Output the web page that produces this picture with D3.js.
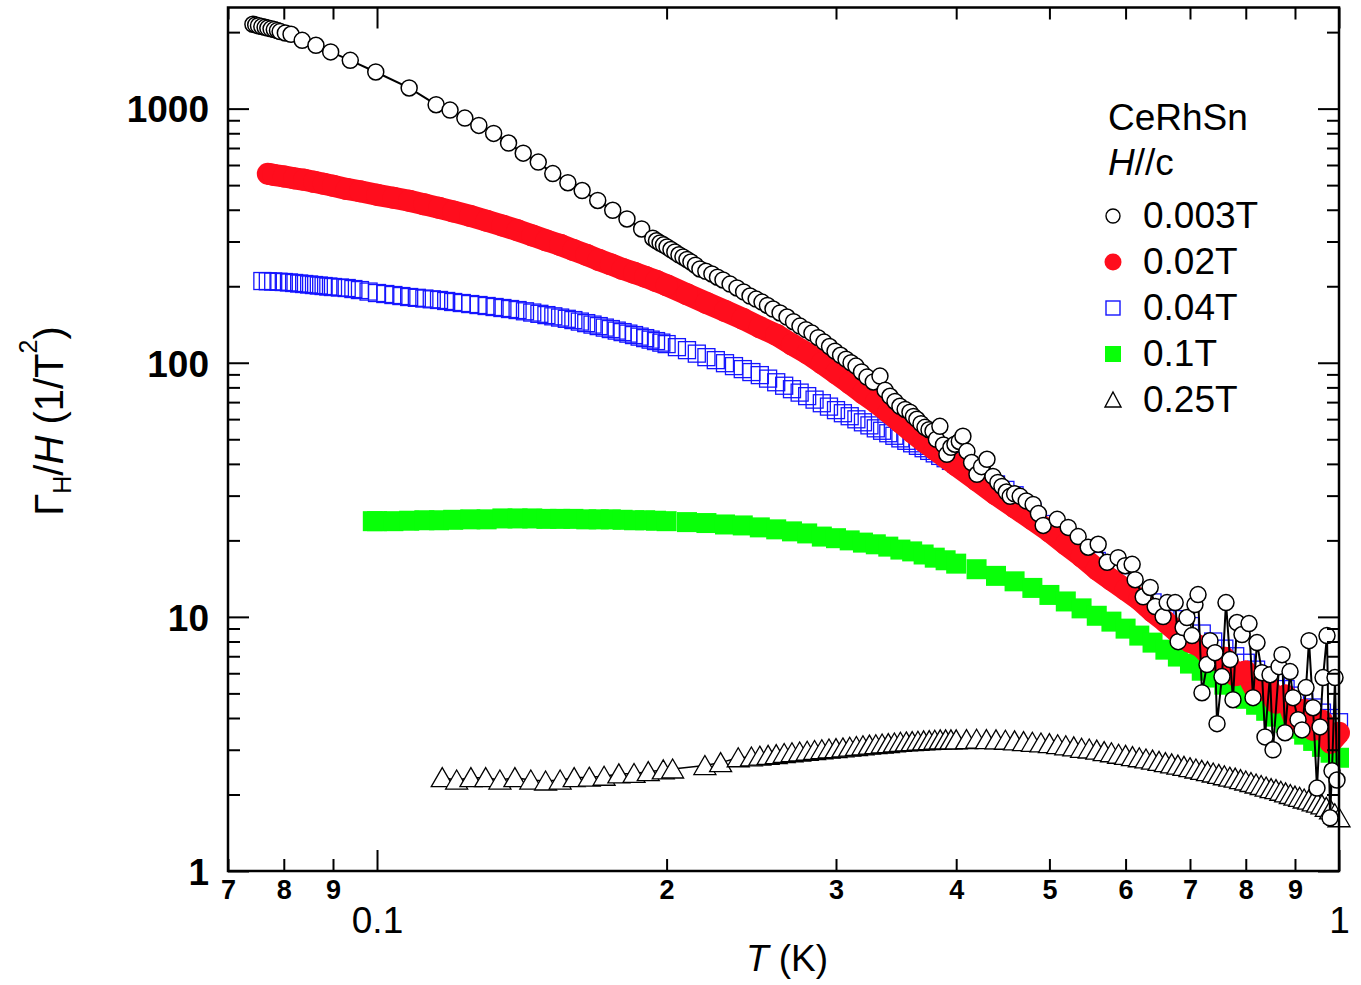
<!DOCTYPE html>
<html>
<head>
<meta charset="utf-8">
<script src="https://cdn.jsdelivr.net/npm/d3@7"></script>
<style>
  html, body { margin: 0; padding: 0; background: #fff; }
  svg { display: block; font-family: "Liberation Sans", Arial, Helvetica, sans-serif; }
</style>
</head>
<body>
<svg id="chart" width="1361" height="985"></svg>
<script>
// T (K) and Gamma_H/H (1/T^2), one pair of arrays per field
const circleT = [0.0743, 0.0748, 0.0753, 0.0759, 0.0765, 0.0770, 0.0776, 0.0782, 0.0788, 0.0793, 0.0803, 0.0814,
  0.0836, 0.0864, 0.0895, 0.0938, 0.0997, 0.1080, 0.1152, 0.1191, 0.1234, 0.1276, 0.1322, 0.1370, 0.1419,
  0.1471, 0.1523, 0.1579, 0.1634, 0.1696, 0.1758, 0.1819, 0.1884, 0.1935, 0.1952, 0.1969, 0.1985, 0.2002,
  0.2021, 0.2040, 0.2060, 0.2080, 0.2100, 0.2120, 0.2143, 0.2166, 0.2197, 0.2229, 0.2259, 0.2289, 0.2328,
  0.2367, 0.2405, 0.2442, 0.2478, 0.2513, 0.2546, 0.2580, 0.2624, 0.2668, 0.2710, 0.2752, 0.2792, 0.2832,
  0.2874, 0.2915, 0.2954, 0.2993, 0.3033, 0.3073, 0.3110, 0.3147, 0.3189, 0.3231, 0.3280, 0.3333, 0.3374,
  0.3414, 0.3455, 0.3496, 0.3540, 0.3581, 0.3611, 0.3641, 0.3677, 0.3712, 0.3748, 0.3784, 0.3815, 0.3847,
  0.3880, 0.3912, 0.3950, 0.3988, 0.4030, 0.4065, 0.4104, 0.4150, 0.4204, 0.4250, 0.4306, 0.4368, 0.4420,
  0.4463, 0.4510, 0.4552, 0.4600, 0.4662, 0.4730, 0.4809, 0.4870, 0.4926, 0.5094, 0.5230, 0.5356,
  0.5486, 0.5619, 0.5741, 0.5894, 0.5994, 0.6095, 0.6139, 0.6258, 0.6364, 0.6440, 0.6564, 0.6628, 0.6756,
  0.6804, 0.6886, 0.6950, 0.7034, 0.7084, 0.7136, 0.7204, 0.7291, 0.7343, 0.7432, 0.7468, 0.7557, 0.7630,
  0.7704, 0.7759, 0.7834, 0.7928, 0.8062, 0.8140, 0.8218, 0.8317, 0.8377, 0.8478, 0.8539, 0.8663, 0.8725,
  0.8788, 0.8894, 0.8958, 0.9066, 0.9153, 0.9241, 0.9307, 0.9397, 0.9487, 0.9556, 0.9625, 0.9717, 0.9787,
  0.9834, 0.9905, 0.9952];
const circleG = [2147, 2135, 2120, 2103, 2088, 2074, 2060, 2047, 2030, 2010, 1985, 1961,
  1857, 1775, 1672, 1549, 1394, 1206, 1036, 987, 918, 859, 799, 732, 668,
  616, 555, 511, 476, 435, 398, 368, 336, 309, 302, 296, 291, 285.6,
  279, 272.9, 266, 260.8, 255, 249.2, 242, 233.9, 229, 223.5, 217, 211.7, 204,
  196.9, 190, 183.0, 178, 173.3, 168, 162.7, 157, 151.3, 145, 139.4, 135, 130.8,
  125.5, 120.6, 115.8, 111.1, 107, 103.3, 100, 97.0, 92, 87.8, 84, 88.6, 78,
  73.8, 70.4, 67.4, 65.5, 63.9, 61.5, 59.9, 57.6, 55.7, 54.5, 53.8, 50, 56.2,
  47.5, 43.6, 46.5, 47.8, 49, 51.4, 44.8, 40.5, 36.4, 39, 41.7, 35.7, 33.8,
  32.6, 31, 29.8, 30.5, 29.8, 28.6, 27.7, 25.5, 22.9, 24.2, 22.5, 20.7,
  18.8, 19.3, 16.4, 17.1, 15.9, 16.1, 14.0, 12.0, 13.05, 10.98, 10.03, 11.38, 11.38,
  7.99, 9.08, 9.94, 8.44, 11.18, 12.24, 5.03, 6.49, 8.06, 7.23, 3.80, 5.82, 11.38,
  6.79, 4.72, 9.50, 8.52, 9.41, 4.81, 7.92, 6.03, 3.37, 5.92, 3.00, 6.37, 7.10,
  3.50, 6.09, 4.81, 3.94, 3.59, 5.27, 8.06, 4.39, 2.12, 3.69, 5.77, 8.44, 1.62,
  2.48, 5.77, 2.28];

const redT = [0.077, 0.078, 0.080, 0.082, 0.084, 0.086, 0.088, 0.090, 0.093, 0.096, 0.100,
  0.104, 0.108, 0.112, 0.116, 0.120,
  0.125, 0.130, 0.135, 0.140, 0.145, 0.150, 0.155, 0.160, 0.165, 0.170, 0.175, 0.180, 0.185, 0.190, 0.195, 0.200,
  0.21, 0.22, 0.23, 0.24, 0.25, 0.26, 0.27, 0.28, 0.29, 0.30, 0.31, 0.32, 0.33, 0.34, 0.35, 0.36, 0.37, 0.38, 0.39, 0.40,
  0.42, 0.44, 0.46, 0.48, 0.50, 0.52, 0.54, 0.56, 0.58, 0.60, 0.62, 0.64, 0.66, 0.68, 0.70,
  0.72, 0.74, 0.76, 0.78, 0.80, 0.82, 0.84, 0.86, 0.88, 0.90, 0.92, 0.94, 0.96, 0.98, 1.00];
const redG = [554, 549, 541, 532, 525, 515, 506, 497, 483, 473, 458,
  446, 434, 420, 407, 394,
  378, 362, 347, 332, 317, 303, 291, 278, 266, 254, 244, 234, 226, 218, 210, 202,
  186, 172, 160, 149, 138, 129, 118, 109, 99.6, 91.0, 83.1, 75.9, 69.9, 63.9, 58.3, 53.3, 49.1, 45.6, 42.5, 39.5,
  34.5, 30.3, 27.0, 24.2, 21.7, 19.3, 17.3, 15.4, 14.0, 12.8, 11.7, 10.5, 9.58, 8.68, 7.99,
  7.6, 6.8, 6.9, 5.9, 6.1, 5.1, 5.5, 4.6, 4.9, 3.9, 4.3, 3.6, 3.9, 3.2, 3.5];

const blueT = [0.076, 0.077, 0.078, 0.079, 0.080, 0.081, 0.082, 0.083, 0.084, 0.085, 0.086, 0.087, 0.088,
  0.089, 0.090, 0.0915, 0.093, 0.0945, 0.096, 0.098, 0.100, 0.102, 0.104, 0.106, 0.108, 0.110, 0.112,
  0.114, 0.116, 0.118, 0.120, 0.1225, 0.125, 0.1275, 0.130, 0.1325, 0.135, 0.1375, 0.140, 0.1425, 0.145,
  0.1475, 0.150, 0.1525, 0.155, 0.1575, 0.160, 0.1625, 0.165, 0.1675, 0.170, 0.1725, 0.175, 0.1775, 0.180,
  0.1825, 0.185, 0.1875, 0.190, 0.1925, 0.195, 0.1975, 0.200, 0.205, 0.21, 0.215, 0.22, 0.225, 0.23, 0.235,
  0.24, 0.245, 0.25, 0.255, 0.26, 0.265, 0.27, 0.275, 0.28, 0.285, 0.29, 0.295, 0.30, 0.305, 0.31, 0.315,
  0.32, 0.325, 0.33, 0.335, 0.34, 0.345, 0.35, 0.355, 0.36, 0.365, 0.37, 0.375, 0.38, 0.385, 0.39, 0.395,
  0.40, 0.41, 0.42, 0.43, 0.44, 0.45, 0.46,
  0.48, 0.50, 0.52, 0.54, 0.56, 0.58, 0.60, 0.62, 0.64, 0.66, 0.68, 0.70,
  0.72, 0.74, 0.76, 0.78, 0.80, 0.82, 0.84, 0.86, 0.88, 0.90, 0.92, 0.94, 0.96, 0.98, 1.00];
const blueG = [209.7, 209.2, 208.8, 208.3, 207.8, 207.0, 206.0, 205.0, 204.1, 203.2, 202.2, 201.3, 200.4,
  199.5, 198.6, 197.7, 196.8, 195.0, 193.2, 190.6, 188.1, 186.4, 184.7, 183.0, 181.4, 180.1, 178.9,
  177.7, 176.6, 175.0, 173.4, 171.8, 170.2, 168.7, 167.2, 165.7, 164.2, 162.7, 161.2, 159.4, 157.6,
  155.8, 154.0, 152.3, 150.6, 148.9, 147.2, 145.2, 143.2, 141.3, 139.4, 137.5, 135.7, 133.8, 132.0,
  130.2, 128.5, 126.7, 125.0, 123.3, 121.7, 120.0, 118.4, 115.2, 112.1, 108.6, 105.2, 102.4, 99.6, 97.0,
  94.4, 91.9, 89.4, 86.6, 83.8, 81.2, 78.7, 76.3, 73.9, 71.6, 69.3, 67.2, 65.1, 63.3, 61.6, 59.9,
  58.3, 56.7, 55.2, 54.0, 52.8, 51.6, 50.4, 49.3, 48.2, 47.1, 46.1, 45.0, 44.0, 43.0, 42.1, 41.1,
  40.2, 38.4, 36.7, 34.9, 33.2, 31.6, 30.1,
  26.0, 23.2, 20.8, 18.6, 16.6, 15.0, 13.7, 12.5, 11.4, 10.5, 9.8, 9.2,
  8.6, 8.0, 7.5, 7.0, 6.6, 6.2, 5.85, 5.5, 5.2, 4.9, 4.65, 4.4, 4.2, 4.0, 3.85];

const greenT = [0.099, 0.100,
  0.104, 0.108, 0.112, 0.116, 0.120,
  0.125, 0.130, 0.135, 0.140, 0.145, 0.150, 0.155, 0.160, 0.165, 0.170, 0.175, 0.180, 0.185, 0.190, 0.195, 0.200,
  0.21, 0.22, 0.23, 0.24, 0.25, 0.26, 0.27, 0.28, 0.29, 0.30, 0.31, 0.32, 0.33, 0.34, 0.35, 0.36, 0.37, 0.38, 0.39, 0.40,
  0.42, 0.44, 0.46, 0.48, 0.50, 0.52, 0.54, 0.56, 0.58, 0.60, 0.62, 0.64, 0.66, 0.68, 0.70,
  0.72, 0.74, 0.76, 0.78, 0.80, 0.82, 0.84, 0.86, 0.88, 0.90, 0.92, 0.94, 0.96, 0.98, 1.00];
const greenG = [23.8, 23.8,
  23.8, 23.9, 24.0, 24.0, 24.1,
  24.2, 24.2, 24.4, 24.4, 24.4, 24.3, 24.3, 24.3, 24.2, 24.2, 24.2, 24.1, 24.0, 24.0, 23.9, 23.8,
  23.6, 23.4, 23.1, 22.9, 22.5, 22.1, 21.7, 21.3, 20.7, 20.4, 20.0, 19.6, 19.3, 18.9, 18.4, 18.1, 17.6, 17.1, 16.7, 16.2,
  15.4, 14.5, 13.8, 13.0, 12.2, 11.5, 10.8, 10.1, 9.58, 8.99, 8.44, 7.92, 7.43, 6.98, 6.55,
  6.14, 5.77, 5.41, 5.08, 4.76, 4.51, 4.27, 4.05, 3.83, 3.63, 3.44, 3.25, 3.08, 2.92, 2.79];

const triT = [0.1169, 0.1210, 0.1252, 0.1297, 0.1342, 0.1391, 0.1445, 0.1497, 0.1550, 0.1603,
  0.1662, 0.1722, 0.1784, 0.1850, 0.1914, 0.1984, 0.2029, 0.2192, 0.2276, 0.2374,
  0.245, 0.25, 0.255, 0.26, 0.265, 0.27, 0.275, 0.28, 0.285, 0.29, 0.295, 0.30, 0.305, 0.31, 0.315,
  0.32, 0.325, 0.33, 0.335, 0.34, 0.345, 0.35, 0.355, 0.36, 0.365, 0.37, 0.375, 0.38, 0.385, 0.39, 0.395,
  0.40, 0.41, 0.42, 0.43, 0.44, 0.45, 0.46, 0.47, 0.48, 0.49, 0.50, 0.51, 0.52, 0.53, 0.54, 0.55, 0.56,
  0.57, 0.58, 0.59, 0.60, 0.61, 0.62, 0.63, 0.64, 0.65, 0.66, 0.67, 0.68, 0.69, 0.70, 0.71, 0.72, 0.73,
  0.74, 0.75, 0.76, 0.77, 0.78, 0.79, 0.80, 0.81, 0.82, 0.83, 0.84, 0.85, 0.86, 0.87, 0.88, 0.89, 0.90,
  0.91, 0.92, 0.93, 0.94, 0.95, 0.96, 0.97, 0.98, 0.99, 1.00];
const triG = [2.33, 2.28, 2.33, 2.33, 2.28, 2.33, 2.28, 2.26, 2.28, 2.33,
  2.34, 2.36, 2.41, 2.42, 2.46, 2.50, 2.52, 2.60, 2.67, 2.79,
  2.81, 2.83, 2.85, 2.87, 2.90, 2.92, 2.94, 2.96, 2.98, 3.00, 3.02, 3.03, 3.05, 3.07, 3.09,
  3.11, 3.13, 3.14, 3.16, 3.17, 3.19, 3.21, 3.22, 3.23, 3.24, 3.25, 3.26, 3.27, 3.28, 3.28, 3.28,
  3.28, 3.29, 3.30, 3.29, 3.28, 3.27, 3.25, 3.23, 3.21, 3.19, 3.17, 3.14, 3.11, 3.08, 3.04, 3.02, 2.99,
  2.95, 2.92, 2.88, 2.85, 2.82, 2.79, 2.76, 2.73, 2.70, 2.67, 2.64, 2.61, 2.58, 2.55, 2.52, 2.49, 2.46,
  2.43, 2.40, 2.37, 2.34, 2.32, 2.29, 2.26, 2.23, 2.20, 2.17, 2.14, 2.11, 2.09, 2.06, 2.03, 2.00, 1.97,
  1.95, 1.92, 1.90, 1.87, 1.85, 1.82, 1.78, 1.74, 1.68, 1.62];

const legendLabels = ["0.003T", "0.02T", "0.04T", "0.1T", "0.25T"];

const xMajorTicks = [0.1, 1];
const xMajorLabels = ["0.1", "1"];
const xMinorTicks = [0.07, 0.08, 0.09, 0.2, 0.3, 0.4, 0.5, 0.6, 0.7, 0.8, 0.9];
const xMinorLabels = ["7", "8", "9", "2", "3", "4", "5", "6", "7", "8", "9"];
const yMajorTicks = [1, 10, 100, 1000];
const yMajorLabels = ["1", "10", "100", "1000"];
const yMinorTicks = [2, 3, 4, 5, 6, 7, 8, 9, 20, 30, 40, 50, 60, 70, 80, 90,
  200, 300, 400, 500, 600, 700, 800, 900, 2000];

const RED = "#ff0d1d";
const BLUE = "#1515ff";
const GREEN = "#08ff08";

const svg = d3.select("#chart");
const x = d3.scaleLog().domain([0.07, 1]).range([228, 1339]);
const y = d3.scaleLog().domain([1, 2500]).range([871, 7.5]);

const line = d3.line().x((d) => x(d.t)).y((d) => y(d.g));

render();

function render() {
  const plot = svg.append("g");

  drawTriangles(plot, toPoints(triT, triG), 11, 10);
  drawSquares(plot, toPoints(greenT, greenG), 20, GREEN, GREEN);
  drawSquares(plot, toPoints(blueT, blueG), 17, "none", BLUE);
  drawFilledCircles(plot, toPoints(redT, redG), 11, RED);
  drawOpenCircles(plot, toPoints(circleT, circleG), 8);

  renderAxes();
  renderTitles();
  renderLegend();
}

function toPoints(ts, gs) {
  return ts.map((t, i) => ({ t, g: gs[i] }));
}

function drawOpenCircles(g, points, r) {
  g.append("path")
    .datum(points)
    .attr("d", line)
    .attr("fill", "none")
    .attr("stroke", "#000")
    .attr("stroke-width", 2);

  g.append("g")
    .selectAll("circle")
    .data(points)
    .join("circle")
    .attr("cx", (d) => x(d.t))
    .attr("cy", (d) => y(d.g))
    .attr("r", r)
    .attr("fill", "#fff")
    .attr("stroke", "#000")
    .attr("stroke-width", 1.5);
}

function drawFilledCircles(g, points, r, color) {
  // band of overlapping markers
  g.append("path")
    .datum(points)
    .attr("d", line)
    .attr("fill", "none")
    .attr("stroke", color)
    .attr("stroke-width", r * 2)
    .attr("stroke-linejoin", "round");

  g.append("g")
    .selectAll("circle")
    .data(points)
    .join("circle")
    .attr("cx", (d) => x(d.t))
    .attr("cy", (d) => y(d.g))
    .attr("r", r)
    .attr("fill", color);
}

function drawSquares(g, points, size, fill, stroke) {
  g.append("g")
    .selectAll("rect")
    .data(points)
    .join("rect")
    .attr("x", (d) => x(d.t) - size / 2)
    .attr("y", (d) => y(d.g) - size / 2)
    .attr("width", size)
    .attr("height", size)
    .attr("fill", fill)
    .attr("stroke", stroke)
    .attr("stroke-width", fill === "none" ? 1.3 : 0);
}

function drawTriangles(g, points, half, h) {
  g.append("path")
    .datum(points)
    .attr("d", line)
    .attr("fill", "none")
    .attr("stroke", "#000")
    .attr("stroke-width", 1.5);

  g.append("g")
    .selectAll("path")
    .data(points)
    .join("path")
    .attr("transform", (d) => `translate(${x(d.t)},${y(d.g)})`)
    .attr("d", `M0,${-h}L${half},${h - 1}L${-half},${h - 1}Z`)
    .attr("fill", "#fff")
    .attr("stroke", "#000")
    .attr("stroke-width", 1.3);
}

function renderAxes() {
  const [x0, x1] = x.range();
  const [y0, y1] = y.range();

  const styleTicks = (g) => {
    g.select(".domain").remove();
    g.selectAll(".tick line").attr("stroke", "#000").attr("stroke-width", 2);
  };

  // bottom
  svg.append("g")
    .attr("transform", `translate(0,${y0})`)
    .call(d3.axisBottom(x).tickValues(xMinorTicks).tickSize(-12).tickPadding(9)
      .tickFormat((d, i) => xMinorLabels[i]))
    .call(styleTicks)
    .call((g) => g.selectAll("text")
      .attr("fill", "#000")
      .style("font-size", "27px")
      .style("font-weight", "bold")
      .style("font-family", "'Liberation Sans Narrow', 'Liberation Sans', Arial, sans-serif"));

  svg.append("g")
    .attr("transform", `translate(0,${y0})`)
    .call(d3.axisBottom(x).tickValues(xMajorTicks).tickSize(-21).tickPadding(36)
      .tickFormat((d, i) => xMajorLabels[i]))
    .call(styleTicks)
    .call((g) => g.selectAll("text").attr("fill", "#000").style("font-size", "37px"));

  // top
  svg.append("g")
    .attr("transform", `translate(0,${y1})`)
    .call(d3.axisTop(x).tickValues(xMinorTicks).tickSize(-12).tickFormat(""))
    .call(styleTicks);
  svg.append("g")
    .attr("transform", `translate(0,${y1})`)
    .call(d3.axisTop(x).tickValues(xMajorTicks).tickSize(-21).tickFormat(""))
    .call(styleTicks);

  // left
  svg.append("g")
    .attr("transform", `translate(${x0},0)`)
    .call(d3.axisLeft(y).tickValues(yMinorTicks).tickSize(-12).tickFormat(""))
    .call(styleTicks);
  svg.append("g")
    .attr("transform", `translate(${x0},0)`)
    .call(d3.axisLeft(y).tickValues(yMajorTicks).tickSize(-21).tickPadding(19)
      .tickFormat((d, i) => yMajorLabels[i]))
    .call(styleTicks)
    .call((g) => g.selectAll("text")
      .attr("fill", "#000")
      .attr("dy", "0.36em")
      .style("font-size", "37px")
      .style("font-weight", "bold"));

  // right
  svg.append("g")
    .attr("transform", `translate(${x1},0)`)
    .call(d3.axisRight(y).tickValues(yMinorTicks).tickSize(-12).tickFormat(""))
    .call(styleTicks);
  svg.append("g")
    .attr("transform", `translate(${x1},0)`)
    .call(d3.axisRight(y).tickValues(yMajorTicks).tickSize(-21).tickFormat(""))
    .call(styleTicks);

  svg.append("rect")
    .attr("x", x0)
    .attr("y", y1)
    .attr("width", x1 - x0)
    .attr("height", y0 - y1)
    .attr("fill", "none")
    .attr("stroke", "#000")
    .attr("stroke-width", 2.5);
}

function renderTitles() {
  const xTitle = svg.append("text")
    .attr("x", 787)
    .attr("y", 971)
    .attr("text-anchor", "middle")
    .style("font-size", "37px");
  xTitle.append("tspan").style("font-style", "italic").text("T");
  xTitle.append("tspan").text(" (K)");

  const yTitle = svg.append("text")
    .attr("transform", "translate(63,421) rotate(-90)")
    .attr("text-anchor", "middle")
    .style("font-size", "40px");
  yTitle.append("tspan").text("Γ");
  yTitle.append("tspan").attr("dy", 8).style("font-size", "25px").text("H");
  yTitle.append("tspan").attr("dy", -8).text("/");
  yTitle.append("tspan").style("font-style", "italic").text("H");
  yTitle.append("tspan").text(" (1/T");
  yTitle.append("tspan").attr("dy", -26).style("font-size", "25px").text("2");
  yTitle.append("tspan").attr("dy", 26).text(")");
}

function renderLegend() {
  const lg = svg.append("g").style("font-size", "37px");

  lg.append("text").attr("x", 1108).attr("y", 130).text("CeRhSn");
  const hc = lg.append("text").attr("x", 1108).attr("y", 175);
  hc.append("tspan").style("font-style", "italic").text("H");
  hc.append("tspan").text("//c");

  const rowY = (i) => 216 + i * 46;
  const mx = 1113;

  const rows = lg.selectAll("g.row")
    .data(legendLabels)
    .join("g")
    .attr("class", "row")
    .attr("transform", (d, i) => `translate(0,${rowY(i)})`);

  rows.append("text")
    .attr("x", 1143)
    .attr("y", 12)
    .text((d) => d);

  lg.append("circle").attr("cx", mx).attr("cy", rowY(0)).attr("r", 7)
    .attr("fill", "#fff").attr("stroke", "#000").attr("stroke-width", 1.4);
  lg.append("circle").attr("cx", mx).attr("cy", rowY(1)).attr("r", 8.5).attr("fill", RED);
  lg.append("rect").attr("x", mx - 7).attr("y", rowY(2) - 7).attr("width", 14).attr("height", 14)
    .attr("fill", "none").attr("stroke", BLUE).attr("stroke-width", 1.4);
  lg.append("rect").attr("x", mx - 8).attr("y", rowY(3) - 8).attr("width", 16).attr("height", 16)
    .attr("fill", GREEN);
  lg.append("path").attr("transform", `translate(${mx},${rowY(4)})`)
    .attr("d", "M0,-8L8,7L-8,7Z")
    .attr("fill", "#fff").attr("stroke", "#000").attr("stroke-width", 1.4);
}
</script>
</body>
</html>
